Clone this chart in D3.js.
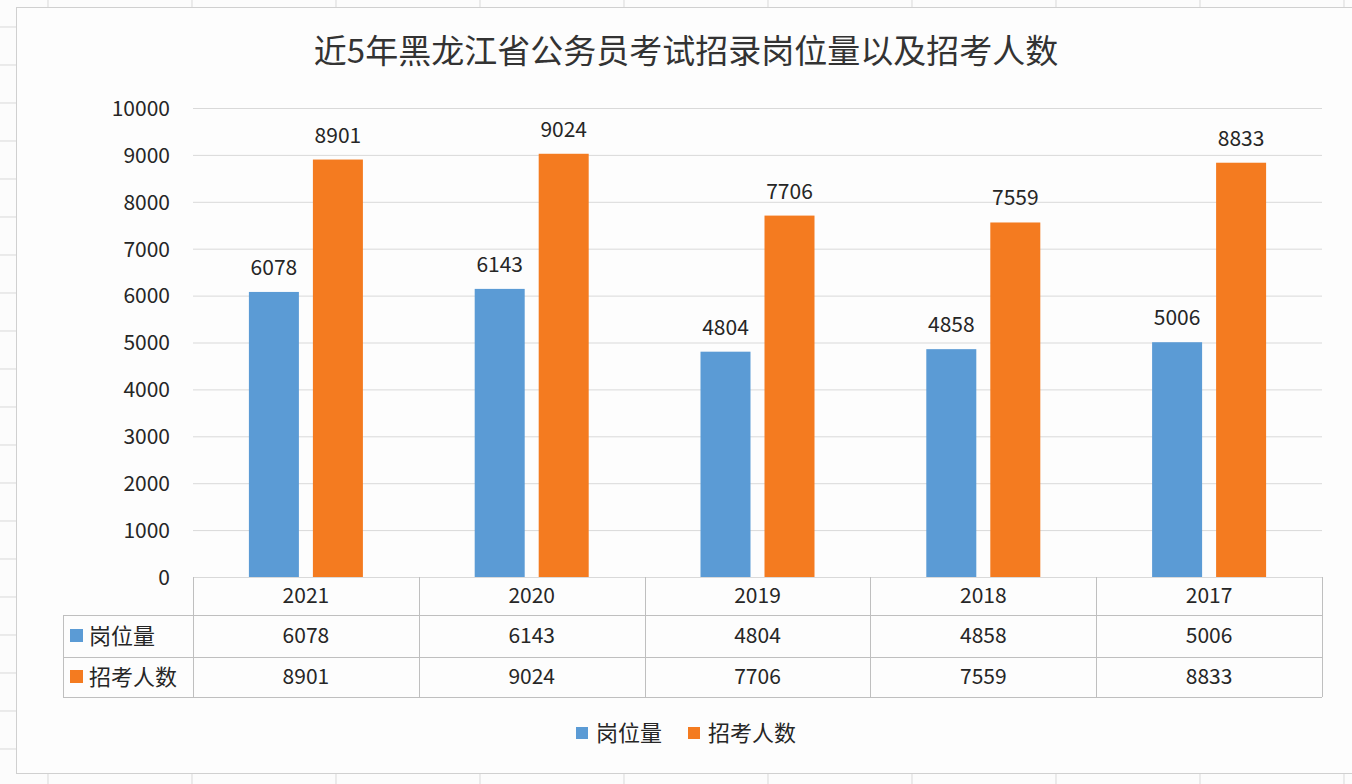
<!DOCTYPE html>
<html>
<head>
<meta charset="utf-8">
<script src="https://cdn.jsdelivr.net/npm/d3@7"></script>
<style>
  html, body { margin: 0; padding: 0; background: #fcfcfc; }
  svg { display: block; }
  text { font-family: "Noto Sans CJK SC", "Noto Sans", sans-serif; fill: #262626; }
</style>
</head>
<body>
<svg id="chart" width="1352" height="784"></svg>
<script>
const title = "近5年黑龙江省公务员考试招录岗位量以及招考人数";
const categories = ["2021", "2020", "2019", "2018", "2017"];
const seriesNames = ["岗位量", "招考人数"];
const posts = [6078, 6143, 4804, 4858, 5006];
const applicants = [8901, 9024, 7706, 7559, 8833];
const yTicks = [0, 1000, 2000, 3000, 4000, 5000, 6000, 7000, 8000, 9000, 10000];
const colors = ["#5B9BD5", "#F47B20"];

const seriesValues = [posts, applicants];

const svg = d3.select("#chart");
const W = 1352, H = 784;

// spreadsheet gridlines in background
const bg = svg.append("g");
const vLines = d3.range(48, W, 144);
const hLines = d3.range(27, H, 38);
bg.selectAll("line.v").data(vLines).join("line")
  .attr("x1", d => d).attr("x2", d => d).attr("y1", 0).attr("y2", H)
  .attr("stroke", "#d9d9d9").attr("stroke-width", 1);
bg.selectAll("line.h").data(hLines).join("line")
  .attr("x1", 0).attr("x2", W).attr("y1", d => d).attr("y2", d => d)
  .attr("stroke", "#d9d9d9").attr("stroke-width", 1);

// chart area
svg.append("rect").attr("x", 16.5).attr("y", 7.5).attr("width", W).attr("height", 766)
  .attr("fill", "#fdfdfd").attr("stroke", "#d0d0d0");

const plot = { left: 193, right: 1322, top: 108, bottom: 577 };

const x0 = d3.scaleBand().domain(categories).range([plot.left, plot.right]).padding(0);
const cw = x0.bandwidth();
const x1 = d3.scaleBand().domain(seriesNames)
  .range([cw / 2 - 57, cw / 2 + 57]).paddingInner(0.21875).paddingOuter(0);
const y = d3.scaleLinear().domain([0, 10000]).range([plot.bottom, plot.top]);

// title
svg.append("text").attr("x", 686).attr("y", 63).attr("text-anchor", "middle")
  .style("font-size", "33px").style("fill", "#333").text(title);

// y gridlines + axis
const yAxis = d3.axisLeft(y).tickValues(yTicks).tickSize(-(plot.right - plot.left)).tickFormat(d3.format("d"));
const ga = svg.append("g").attr("transform", `translate(${plot.left},0)`).call(yAxis);
ga.select(".domain").remove();
ga.selectAll(".tick line").attr("stroke", "#d9d9d9");
ga.selectAll(".tick text").attr("x", -23).attr("dy", "0.35em")
  .style("font-size", "21px").style("fill", "#262626")
  .style("font-family", "'Noto Sans CJK SC', sans-serif");

// bars
const groups = svg.append("g").selectAll("g").data(categories).join("g")
  .attr("transform", d => `translate(${x0(d)},0)`);
groups.selectAll("rect").data((d, i) => seriesNames.map((s, j) => ({ s, j, v: seriesValues[j][i] })))
  .join("rect")
  .attr("x", d => x1(d.s)).attr("width", x1.bandwidth())
  .attr("y", d => y(d.v)).attr("height", d => y(0) - y(d.v))
  .attr("fill", d => colors[d.j]);
groups.selectAll("text.lbl").data((d, i) => seriesNames.map((s, j) => ({ s, j, v: seriesValues[j][i] })))
  .join("text").attr("class", "lbl")
  .attr("x", d => x1(d.s) + x1.bandwidth() / 2).attr("y", d => y(d.v) - 17)
  .attr("text-anchor", "middle").style("font-size", "21px").text(d => d.v);

// data table
const rowY = [plot.bottom, 615, 657, 697];
const tbl = svg.append("g").attr("stroke", "#bfbfbf").attr("stroke-width", 1).attr("fill", "none");
// horizontal lines
tbl.append("line").attr("x1", 63).attr("x2", plot.right).attr("y1", rowY[1] + 0.5).attr("y2", rowY[1] + 0.5);
tbl.append("line").attr("x1", 63).attr("x2", plot.right).attr("y1", rowY[2] + 0.5).attr("y2", rowY[2] + 0.5);
tbl.append("line").attr("x1", 63).attr("x2", plot.right).attr("y1", rowY[3] + 0.5).attr("y2", rowY[3] + 0.5);
tbl.append("line").attr("x1", 63.5).attr("x2", 63.5).attr("y1", rowY[1]).attr("y2", rowY[3]);
// vertical lines
const vx = categories.map(c => x0(c)).concat([plot.right]);
tbl.selectAll("line.vx").data(vx).join("line")
  .attr("x1", d => Math.round(d) + 0.5).attr("x2", d => Math.round(d) + 0.5)
  .attr("y1", rowY[0]).attr("y2", rowY[3]);

// table header (categories)
svg.append("g").selectAll("text").data(categories).join("text")
  .attr("x", d => x0(d) + cw / 2).attr("y", (rowY[0] + rowY[1]) / 2).attr("dy", "0.35em")
  .attr("text-anchor", "middle").style("font-size", "21px").text(d => d);

// table rows
seriesNames.forEach((s, j) => {
  const cy = (rowY[j + 1] + rowY[j + 2]) / 2;
  svg.append("rect").attr("x", 70).attr("y", cy - 7).attr("width", 13).attr("height", 13).attr("fill", colors[j]);
  svg.append("text").attr("x", 89).attr("y", cy).attr("dy", "0.35em")
    .style("font-size", "22px").text(s);
  svg.append("g").selectAll("text").data(seriesValues[j]).join("text")
    .attr("x", (d, i) => x0(categories[i]) + cw / 2).attr("y", cy).attr("dy", "0.35em")
    .attr("text-anchor", "middle").style("font-size", "21px").text(d => d);
});

// legend
const legendX = [576, 688];
seriesNames.forEach((s, j) => {
  svg.append("rect").attr("x", legendX[j]).attr("y", 727).attr("width", 12).attr("height", 12).attr("fill", colors[j]);
  svg.append("text").attr("x", legendX[j] + 20).attr("y", 733).attr("dy", "0.35em")
    .style("font-size", "22px").text(s);
});
</script>
</body>
</html>
